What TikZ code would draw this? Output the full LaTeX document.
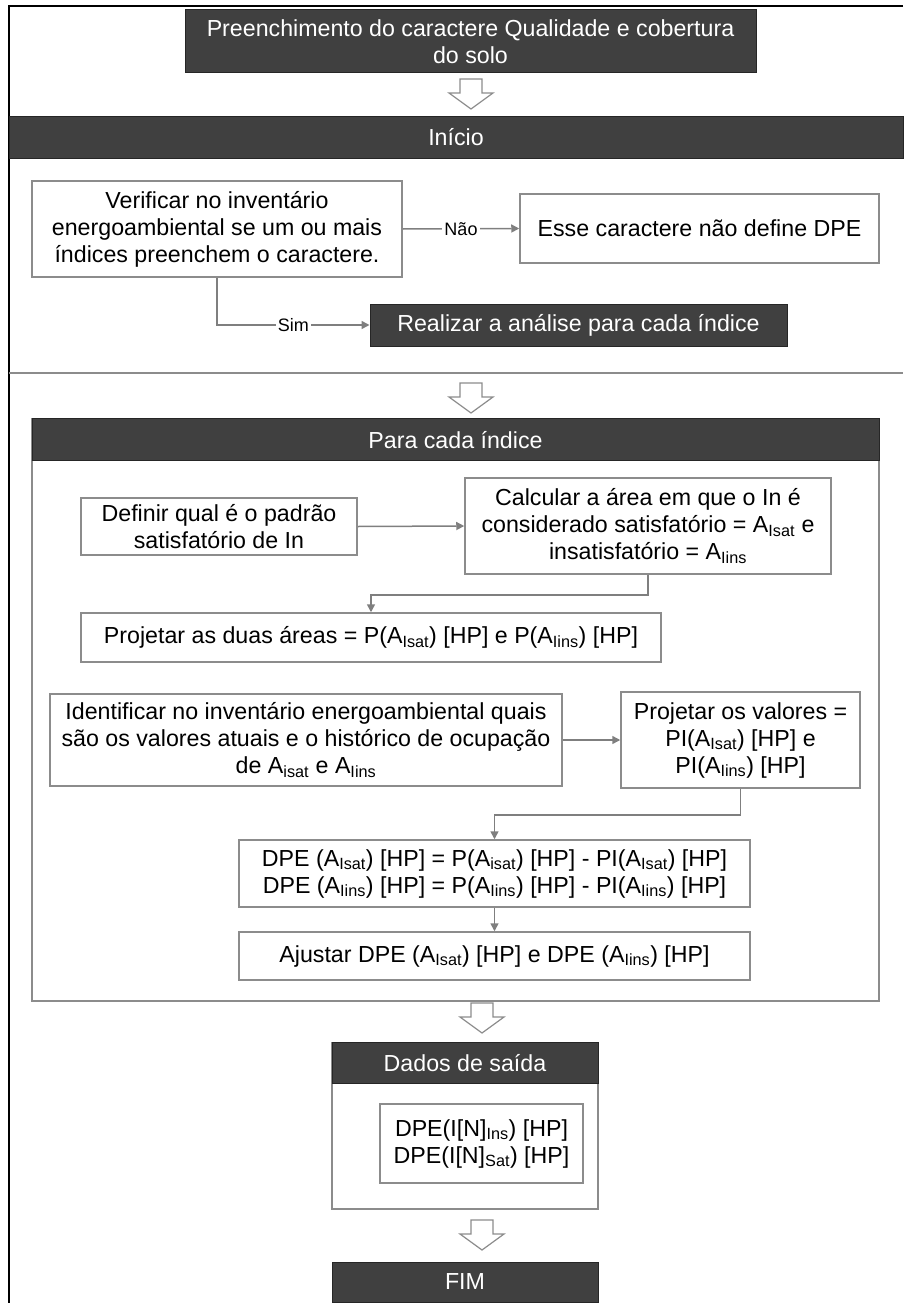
\documentclass[tikz,border=0pt]{standalone}
\usepackage{fontspec}
\setmainfont{Liberation Sans}
\usetikzlibrary{arrows.meta}

\definecolor{boxdark}{HTML}{404040}
\definecolor{boxedge}{HTML}{262626}
\definecolor{lightedge}{HTML}{8C8C8C}
\definecolor{linkgray}{HTML}{7F7F7F}

\begin{document}
\begin{tikzpicture}[
	x=1pt, y=-1pt,
	every node/.style = {font=\fontsize{23.2}{27}\selectfont, inner sep=0pt, align=center},
	darkbox/.style = {draw=boxedge, line width=1pt, fill=boxdark, text=white},
	stepbox/.style = {draw=lightedge, line width=1.5pt, fill=white},
	panel/.style = {draw=lightedge, line width=1.5pt},
	link/.style = {draw=linkgray, line width=1.5pt, -{Triangle[length=8pt, width=8pt]}},
	linklabel/.style = {font=\fontsize{18}{20}\selectfont, fill=white, inner sep=2pt},
	hollow/.style = {draw=lightedge, line width=1.2pt, fill=white, line join=miter},
]
	\useasboundingbox (0,0) rectangle (903,1303);

	% outer frame and the line closing the first section
	\draw [line width=1.2pt] (903,6) -- (9,6) -- (9,1303);
	\draw [lightedge, line width=1.5pt] (9,373) -- (903,373);

	\node [darkbox, minimum width=571, minimum height=63] (pre) at (470.5,41.5)
		{Preenchimento do caractere Qualidade e cobertura\\do solo};
	\node [darkbox, minimum width=894, minimum height=41] (inicio) at (456,137.5) {Início};

	\node [stepbox, minimum width=370, minimum height=96] (verif) at (217,229)
		{Verificar no inventário\\energoambiental se um ou mais\\índices preenchem o caractere.};
	\node [stepbox, minimum width=359, minimum height=69] (esse) at (699.5,228.5)
		{Esse caractere não define DPE};
	\node [darkbox, minimum width=417, minimum height=42] (realiz) at (578.5,325)
		{Realizar a análise para cada índice};

	\draw [link] (verif.east) -- (esse.west) node [midway, linklabel] {Não};
	\draw [link] (verif.south) |- (realiz.west) node [pos=0.75, linklabel] {Sim};

	% per-index block
	\node [panel, minimum width=847, minimum height=582] (para) at (455.5,710) {};
	\node [darkbox, minimum width=847, minimum height=42, anchor=north] (parahead) at (para.north)
		{Para cada índice};

	\node [stepbox, minimum width=276, minimum height=57] (definir) at (219,526.5)
		{Definir qual é o padrão\\satisfatório de In};
	\node [stepbox, minimum width=366, minimum height=96] (calc) at (648,526)
		{Calcular a área em que o In é\\considerado satisfatório = A\textsubscript{Isat} e\\insatisfatório = A\textsubscript{Iins}};
	\node [stepbox, minimum width=580, minimum height=49] (proj) at (371,637.5)
		{Projetar as duas áreas = P(A\textsubscript{Isat}) [HP] e P(A\textsubscript{Iins}) [HP]};
	\node [stepbox, minimum width=512, minimum height=92] (ident) at (306,740)
		{Identificar no inventário energoambiental quais\\são os valores atuais e o histórico de ocupação\\de A\textsubscript{isat} e A\textsubscript{Iins}};
	\node [stepbox, minimum width=239, minimum height=96] (projval) at (740.5,740)
		{Projetar os valores =\\PI(A\textsubscript{Isat}) [HP] e\\PI(A\textsubscript{Iins}) [HP]};
	\node [stepbox, minimum width=511, minimum height=67] (dpe) at (494.5,873.5)
		{DPE (A\textsubscript{Isat}) [HP] = P(A\textsubscript{isat}) [HP] - PI(A\textsubscript{Isat}) [HP]\\DPE (A\textsubscript{Iins}) [HP] = P(A\textsubscript{Iins}) [HP] - PI(A\textsubscript{Iins}) [HP]};
	\node [stepbox, minimum width=511, minimum height=48] (ajust) at (494.5,956)
		{Ajustar DPE (A\textsubscript{Isat}) [HP] e DPE (A\textsubscript{Iins}) [HP]};

	\draw [link] (definir.east) -- (calc.west);
	\draw [link] (calc.south) -- ++(0,20) -| (proj.north);
	\draw [link] (ident.east) -- (projval.west);
	\draw [link] (projval.south) -- ++(0,26) -| (dpe.north);
	\draw [link] (dpe.south) -- (ajust.north);

	% output block
	\node [panel, minimum width=266, minimum height=166] (dados) at (465,1126) {};
	\node [darkbox, minimum width=266, minimum height=41, anchor=north] (dadoshead) at (dados.north)
		{Dados de saída};
	\node [stepbox, minimum width=203, minimum height=79] (saida) at (481.5,1143.5)
		{DPE(I[N]\textsubscript{Ins}) [HP]\\DPE(I[N]\textsubscript{Sat}) [HP]};

	\node [darkbox, minimum width=266, minimum height=40] (fim) at (465,1282) {FIM};

	% hollow arrows between the sections
	\foreach \x/\y in {471/79, 471/383, 482/1003, 482/1220}{%
		\draw [hollow] (\x-11,\y) -- (\x+11,\y) -- (\x+11,\y+14) -- (\x+22,\y+14)
			-- (\x,\y+30) -- (\x-22,\y+14) -- (\x-11,\y+14) -- cycle;
	}
\end{tikzpicture}
\end{document}
